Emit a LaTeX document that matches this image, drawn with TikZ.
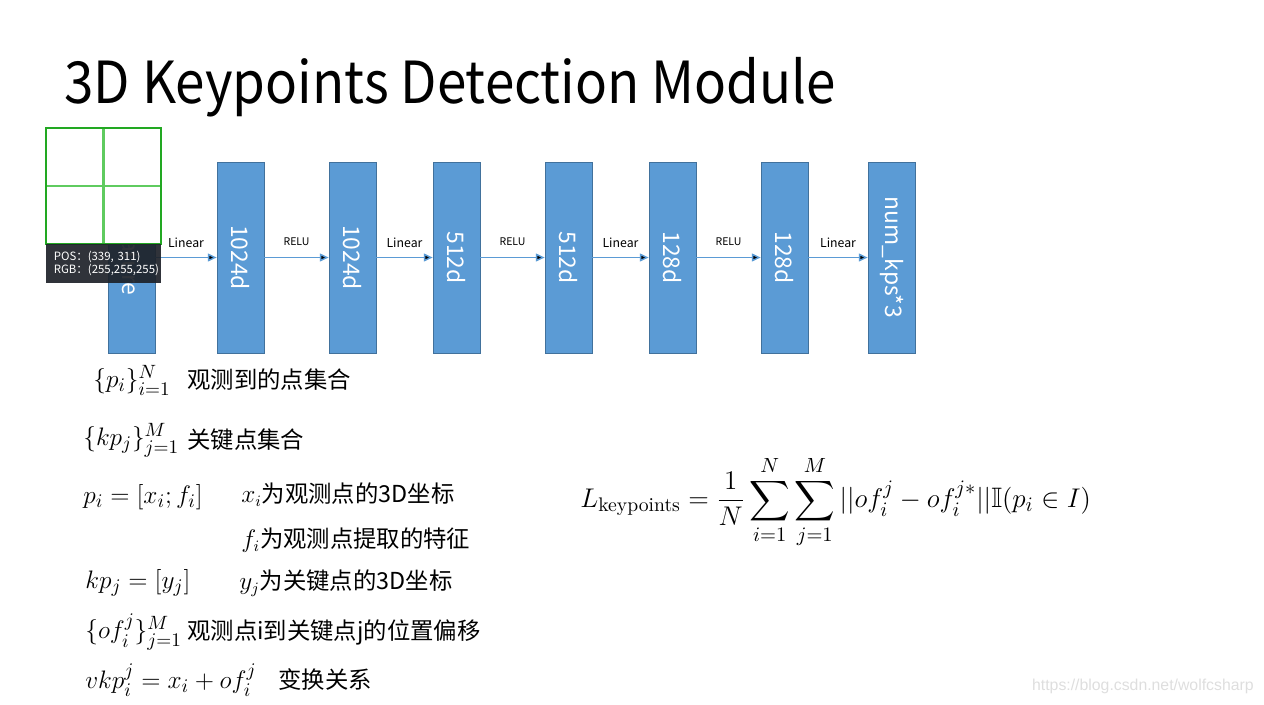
\documentclass[tikz,border=0pt]{standalone}
\usepackage{amsmath,amssymb}
\usepackage{fontspec}
\newfontfamily\cjk{Noto Sans CJK SC}
\newfontfamily\wmfont{Liberation Sans}
\usetikzlibrary{arrows.meta}

\definecolor{layerblue}{HTML}{5B9BD5}
\definecolor{layeredge}{HTML}{41719C}
\definecolor{gridgreen}{HTML}{22A822}
\definecolor{gridlight}{HTML}{5FCB5F}
\definecolor{tipdark}{HTML}{1E2229}

\begin{document}
\begin{tikzpicture}[x=0.02cm,y=-0.02cm,
  >={Triangle[length=5pt,width=4.5pt]},
  layer/.style={draw=layeredge,fill=layerblue,text=white,rotate=-90,
    minimum width=3.82cm,minimum height=0.94cm,inner sep=0pt,
    font=\cjk\fontsize{13}{13}\selectfont},
  flow/.style={->,draw=layerblue,line width=0.8pt},
  lin/.style={above=2pt,text=black,font=\cjk\fontsize{7}{8}\selectfont},
  act/.style={above=3pt,text=black,font=\cjk\fontsize{6}{7}\selectfont},
  sym/.style={anchor=west,inner sep=0pt,font=\fontsize{15}{18}\selectfont},
  note/.style={anchor=west,inner sep=0pt,font=\cjk\fontsize{13.3}{16}\selectfont}]
  \useasboundingbox (0,0) rectangle (1264,704);

  \node[anchor=base west,inner sep=0pt,font=\cjk\fontsize{33}{36}\selectfont] (title) at (64,103) {\scalebox{0.913}[1]{3D Keypoints Detection Module}};

  % layers
  \node[layer] (f0) at (131.5,257.5) {feature};
  \node[layer] (l1) at (240.5,257.5) {1024d};
  \node[layer] (l2) at (352.5,257.5) {1024d};
  \node[layer] (l3) at (456.5,257.5) {512d};
  \node[layer] (l4) at (568.5,257.5) {512d};
  \node[layer] (l5) at (672.5,257.5) {128d};
  \node[layer] (l6) at (784.5,257.5) {128d};
  \node[layer] (out) at (891.5,257.5) {num\_kps*3};

  \path[flow] (f0) edge node[lin] {Linear} (l1);
  \path[flow] (l1) edge node[act] {RELU}   (l2);
  \path[flow] (l2) edge node[lin] {Linear} (l3);
  \path[flow] (l3) edge node[act] {RELU}   (l4);
  \path[flow] (l4) edge node[lin] {Linear} (l5);
  \path[flow] (l5) edge node[act] {RELU}   (l6);
  \path[flow] (l6) edge node[lin] {Linear} (out);

  % picker overlay
  \fill[white] (46,128) rectangle (161,244);
  \draw[gridlight,line width=1.2pt] (103.5,128) -- (103.5,244) (46,186) -- (161,186);
  \draw[gridgreen,line width=0.7pt] (46,128) rectangle (161,244);
  \node[anchor=north west,fill=tipdark,fill opacity=0.92,text opacity=1,text=white,
    minimum width=2.3cm,minimum height=0.78cm,inner xsep=0.14cm,inner ysep=0pt,
    align=left,text width=2.0cm,font=\cjk\fontsize{6.5}{7.4}\selectfont] (tip) at (46,244)
    {POS：(339, 311)\\RGB：(255,255,255)};

  % notation
  \node[sym]  (pset)   at (93,380)  {$\{p_i\}_{i=1}^N$};
  \node[note] (pset-t) at (187,380) {观测到的点集合};
  \node[sym]  (kset)   at (83,440)  {$\{kp_j\}_{j=1}^M$};
  \node[note] (kset-t) at (187,440) {关键点集合};
  \node[sym]  (pdef)   at (83,497)  {$p_i = [x_i; f_i]$};
  \node[note] (xdef)   at (241,495) {$x_i$为观测点的3D坐标};
  \node[note] (fdef)   at (241,540) {$f_i$为观测点提取的特征};
  \node[sym]  (kdef)   at (85,583)  {$kp_j = [y_j]$};
  \node[note] (ydef)   at (239,583) {$y_j$为关键点的3D坐标};
  \node[sym]  (oset)   at (85,632)  {$\{of_i^j\}_{j=1}^M$};
  \node[note] (oset-t) at (187,632) {观测点i到关键点j的位置偏移};
  \node[sym]  (vkp)    at (85,680)  {$vkp_i^j = x_i + of_i^j$};
  \node[note] (vkp-t)  at (278,680) {变换关系};

  \node[sym] (loss) at (580,502) {\scalebox{1.067}{$L_{\text{keypoints}} = \dfrac{1}{N}\displaystyle\sum_{i=1}^{N}\sum_{j=1}^{M}||of_i^j - of_i^{j*}||\mathbb{I}(p_i\in I)$}};

  \node[anchor=east,inner sep=0pt,text=black!13,font=\wmfont\fontsize{9}{10}\selectfont] (mark) at (1254,686) {https://blog.csdn.net/wolfcsharp};
\end{tikzpicture}
\end{document}
